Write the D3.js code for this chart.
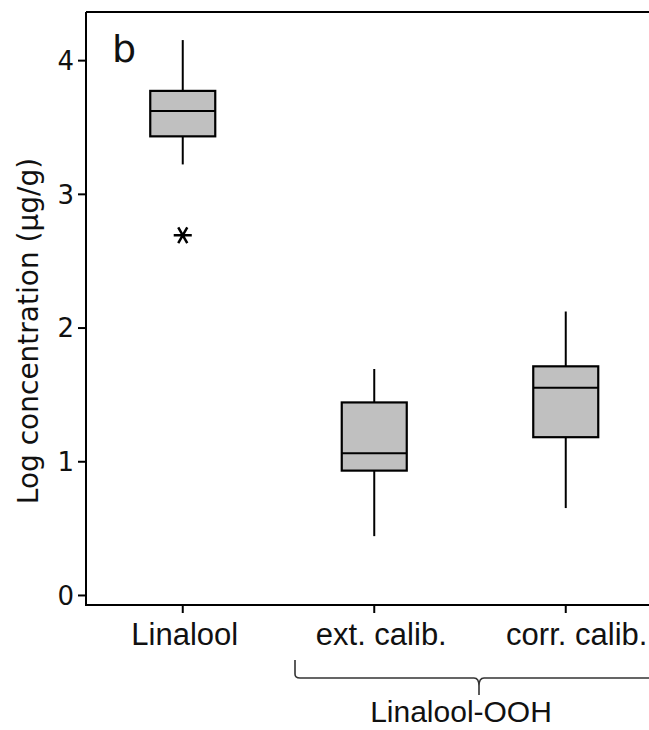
<!DOCTYPE html>
<html>
<head>
<meta charset="utf-8">
<script src="https://cdn.jsdelivr.net/npm/d3@7"></script>
<style>
  html, body { margin: 0; padding: 0; background: #fff; }
  svg { display: block; }
</style>
</head>
<body>
<div id="chart"></div>
<script>
// Box-plot summaries (log10 concentration, µg/g)
const categories  = ["Linalool", "ext. calib.", "corr. calib."];
const whiskerLow  = [3.22, 0.44, 0.65];
const quartile1   = [3.43, 0.93, 1.18];
const medians     = [3.62, 1.06, 1.55];
const quartile3   = [3.77, 1.44, 1.71];
const whiskerHigh = [4.15, 1.69, 2.12];
const outliers    = [[2.69], [], []];
const yTicks      = [0, 1, 2, 3, 4];
const groupLabel  = "Linalool-OOH";
const panelLetter = "b";
const yTitle      = "Log concentration (µg/g)";

(function draw() {
  const W = 649, H = 730;
  const svg = d3.select("#chart").append("svg")
    .attr("width", W).attr("height", H);

  // Plot frame: left axis at x=86, top edge at y=12, x axis at y=605;
  // the right side runs past the edge of the page.
  const plotLeft = 86, plotTop = 12, plotBottom = 605, plotRight = 661.5;

  const x = d3.scaleBand().domain(categories).range([plotLeft + 1, plotRight]).padding(0);
  const y = d3.scaleLinear().domain([-0.075, 4.36]).range([plotBottom, plotTop]);

  const boxW = 65;
  const rows = categories.map((c, i) => ({
    cat: c, lo: whiskerLow[i], q1: quartile1[i], med: medians[i],
    q3: quartile3[i], hi: whiskerHigh[i], out: outliers[i]
  }));
  const cx = d => x(d.cat) + x.bandwidth() / 2;

  // Whiskers
  const g = svg.append("g");
  g.selectAll("line.whisker").data(rows).join("line")
    .attr("class", "whisker")
    .attr("x1", cx).attr("x2", cx)
    .attr("y1", d => y(d.lo)).attr("y2", d => y(d.hi))
    .attr("stroke", "#000").attr("stroke-width", 2);

  // Boxes
  g.selectAll("rect.box").data(rows).join("rect")
    .attr("class", "box")
    .attr("x", d => cx(d) - boxW / 2)
    .attr("width", boxW)
    .attr("y", d => y(d.q3))
    .attr("height", d => y(d.q1) - y(d.q3))
    .attr("fill", "#c0c0c0")
    .attr("stroke", "#000").attr("stroke-width", 2.2);

  // Medians
  g.selectAll("line.median").data(rows).join("line")
    .attr("class", "median")
    .attr("x1", d => cx(d) - boxW / 2).attr("x2", d => cx(d) + boxW / 2)
    .attr("y1", d => y(d.med)).attr("y2", d => y(d.med))
    .attr("stroke", "#000").attr("stroke-width", 2);

  // Outliers drawn as asterisks
  const star = d3.symbol().type(d3.symbolAsterisk).size(230);
  rows.forEach(d => {
    d.out.forEach(v => {
      g.append("path")
        .attr("d", star())
        .attr("transform", `translate(${cx(d)},${y(v)}) rotate(90)`)
        .attr("fill", "none").attr("stroke", "#000").attr("stroke-width", 2.5);
    });
  });

  // Top edge of the frame
  svg.append("line").attr("x1", plotLeft).attr("x2", W).attr("y1", plotTop).attr("y2", plotTop)
    .attr("stroke", "#000").attr("stroke-width", 2);

  // Y axis
  const yAxis = svg.append("g")
    .attr("transform", `translate(${plotLeft},0)`)
    .call(d3.axisLeft(y).tickValues(yTicks).tickFormat(d3.format("d"))
      .tickSize(8).tickPadding(4).tickSizeOuter(0));
  yAxis.select(".domain").attr("stroke", "#000").attr("stroke-width", 2)
    .attr("d", `M0,${plotTop}V${plotBottom}`);
  yAxis.selectAll(".tick line").attr("stroke", "#000").attr("stroke-width", 2);
  yAxis.selectAll(".tick text")
    .attr("font-family", "'DejaVu Sans', Verdana, sans-serif")
    .attr("font-size", 26).attr("fill", "#111").attr("dy", "0.36em");

  // X axis
  const labelShift = { "Linalool": 2, "ext. calib.": 7, "corr. calib.": 11 };
  const xAxis = svg.append("g")
    .attr("transform", `translate(0,${plotBottom})`)
    .call(d3.axisBottom(x).tickSize(8).tickPadding(0).tickSizeOuter(0));
  xAxis.select(".domain").attr("stroke", "#000").attr("stroke-width", 2)
    .attr("d", `M${plotLeft - 1},0H${W}`);
  xAxis.selectAll(".tick line").attr("stroke", "#000").attr("stroke-width", 2);
  xAxis.selectAll(".tick text")
    .attr("font-family", "'Liberation Sans', Arial, sans-serif")
    .attr("font-size", 31).attr("fill", "#111")
    .attr("y", 40).attr("dy", 0)
    .attr("dx", d => labelShift[d]);

  // Brace grouping the two Linalool-OOH calibrations
  const bx0 = 295, bx1 = 479, by = 678;
  const brace = d3.path();
  brace.moveTo(bx0, 660);
  brace.lineTo(bx0, by - 4);
  brace.quadraticCurveTo(bx0, by, bx0 + 5, by);
  brace.lineTo(bx1 - 5, by);
  brace.quadraticCurveTo(bx1, by, bx1, by + 8);
  brace.lineTo(bx1, 695);
  brace.moveTo(bx1, by + 8);
  brace.quadraticCurveTo(bx1, by, bx1 + 5, by);
  brace.lineTo(W + 5, by);
  svg.append("path").attr("d", brace.toString())
    .attr("fill", "none").attr("stroke", "#333").attr("stroke-width", 1.6);

  svg.append("text")
    .attr("x", 461).attr("y", 722)
    .attr("text-anchor", "middle")
    .attr("font-family", "'Liberation Sans', Arial, sans-serif")
    .attr("font-size", 30).attr("fill", "#111")
    .text(groupLabel);

  // Y axis title
  svg.append("text")
    .attr("transform", "translate(38,331) rotate(-90)")
    .attr("text-anchor", "middle")
    .attr("font-family", "'DejaVu Sans', Verdana, sans-serif")
    .attr("font-size", 28).attr("fill", "#111")
    .text(yTitle);

  // Panel letter
  svg.append("text")
    .attr("x", 112).attr("y", 62)
    .attr("font-family", "'DejaVu Sans', Verdana, sans-serif")
    .attr("font-size", 38).attr("fill", "#111")
    .text(panelLetter);
})();
</script>
</body>
</html>
